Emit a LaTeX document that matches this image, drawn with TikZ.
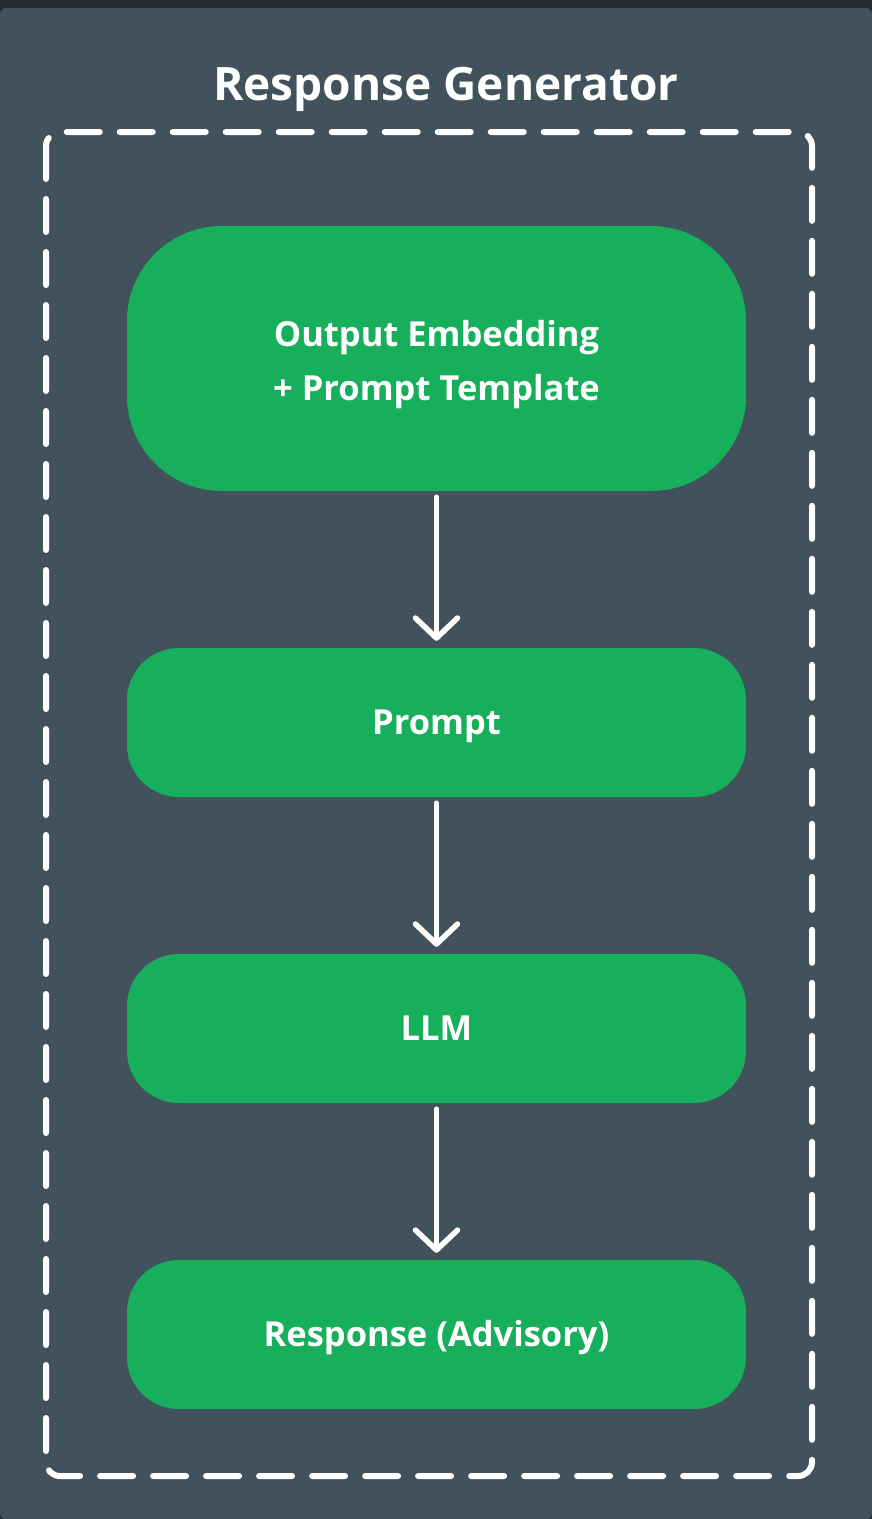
\documentclass[tikz,border=0pt]{standalone}
\usepackage{fontspec}
\setmainfont{Open Sans}
\usetikzlibrary{arrows.meta}
\definecolor{panel}{HTML}{42525C}
\definecolor{topbar}{HTML}{232A31}
\definecolor{boxgreen}{HTML}{17AE5C}
\tikzset{
  stage/.style={fill=boxgreen, draw=none, minimum width=619pt, text=white,
    font=\fontsize{34.5}{54}\selectfont\bfseries, align=center, inner sep=0pt,
    text height=24.6pt, text depth=0pt},
  flow/.style={draw=white, line width=5.5pt, line cap=round,
    -{Straight Barb[length=20pt, width=42pt, line width=5.5pt, round]}},
  groupbox/.style={draw=white, line width=6pt, line cap=round,
    dash pattern=on 33pt off 20pt, rounded corners=14pt}
}
\begin{document}
\begin{tikzpicture}[x=1pt,y=-1pt]
\useasboundingbox (0,0) rectangle (872,1519);
\fill[topbar] (0,0) rectangle (872,1519);
\fill[panel, rounded corners=6pt] (0,1519) -- (0,8) -- (872,8) -- (872,1519) -- cycle;
\node[text=white, font=\fontsize{46}{52}\selectfont\bfseries] (title) at (446,89) {Response Generator};
\draw[groupbox] (46,132) rectangle (812,1476);
\node[stage, minimum height=265pt, rounded corners=95pt, text height=84.6pt] (emb) at (436.5,358.5) {Output Embedding\\+ Prompt Template};
\node[stage, minimum height=149pt, rounded corners=52pt] (prompt) at (436.5,722.5) {Prompt};
\node[stage, minimum height=149pt, rounded corners=52pt] (llm) at (436.5,1028.5) {LLM};
\node[stage, minimum height=149pt, rounded corners=52pt] (resp) at (436.5,1334.5) {Response (Advisory)};
\draw[flow] ([yshift=-6pt]emb.south) -- ([yshift=7pt]prompt.north);
\draw[flow] ([yshift=-6pt]prompt.south) -- ([yshift=7pt]llm.north);
\draw[flow] ([yshift=-6pt]llm.south) -- ([yshift=7pt]resp.north);
\end{tikzpicture}
\end{document}
